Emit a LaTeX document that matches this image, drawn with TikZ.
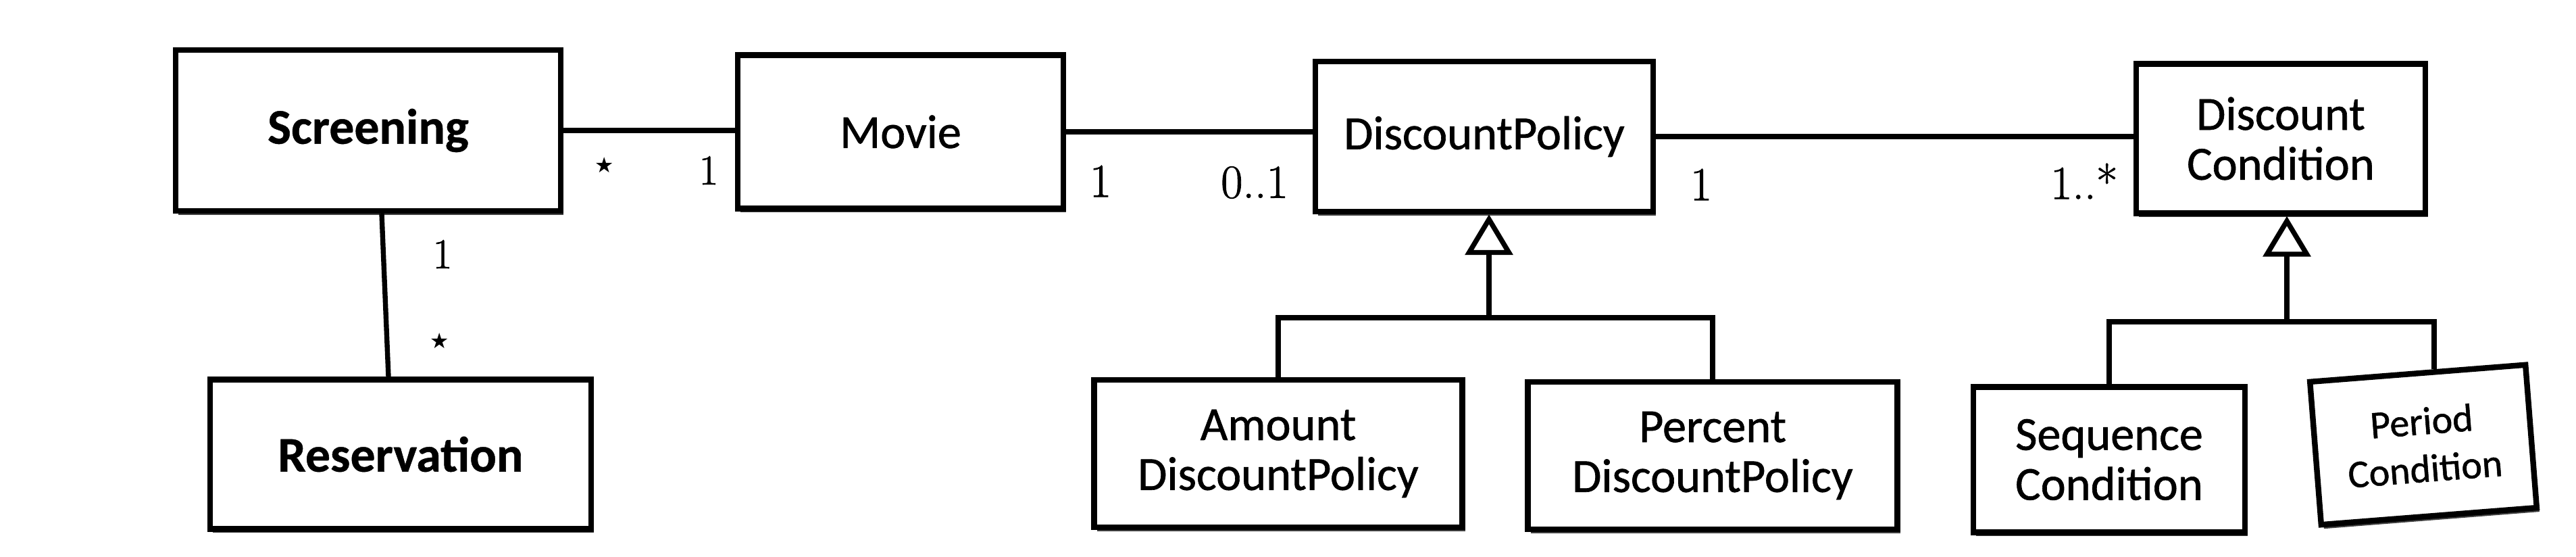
\documentclass[tikz,border=0pt]{standalone}
\usepackage{fontspec}
\newfontfamily\cf[FakeBold=0.9]{Carlito}
\newfontfamily\cfb[FakeBold=0.6]{Carlito Bold}
\newfontfamily\lmb[FakeBold=1.2]{Latin Modern Roman}
\newfontfamily\djv{DejaVu Sans}
\usetikzlibrary{arrows.meta,shadows,calc}
\begin{document}
\begin{tikzpicture}[x=1cm,y=1cm,
  cls/.style={draw, line width=2.4pt, fill=white, align=center, inner sep=0pt,
    font=\cf\fontsize{20}{21}\selectfont,
    drop shadow={shadow xshift=0.04cm, shadow yshift=-0.06cm, fill=black!75, opacity=1}},
  boldcls/.style={cls, font=\cfb\fontsize{21}{22}\selectfont},
  lnk/.style={line width=2.1pt},
  gen/.style={lnk, -{Triangle[open, length=0.6cm, width=0.7cm]}},
  mult/.style={inner sep=0pt, font=\lmb\fontsize{20}{20}\selectfont},
  smult/.style={inner sep=0pt, font=\lmb\fontsize{18}{18}\selectfont},
  starlbl/.style={inner sep=0pt, font=\djv\fontsize{9}{9}\selectfont}
]
\useasboundingbox (0,0) rectangle (38.13,-8.24);

% classes
\node[boldcls, minimum width=5.7cm, minimum height=2.38cm] (scr) at (5.45,-1.93) {Screening};
\node[cls, minimum width=4.82cm, minimum height=2.27cm] (mov) at (13.33,-1.95) {Movie};
\node[cls, minimum width=5.0cm, minimum height=2.22cm] (dp) at (21.97,-2.02) {DiscountPolicy};
\node[cls, minimum width=4.28cm, minimum height=2.21cm] (dc) at (33.76,-2.05) {Discount\\Condition};
\node[boldcls, minimum width=5.64cm, minimum height=2.21cm] (res) at (5.93,-6.72) {Reservation};
\node[cls, minimum width=5.45cm, minimum height=2.18cm] (adp) at (18.92,-6.71) {Amount\\DiscountPolicy};
\node[cls, minimum width=5.47cm, minimum height=2.18cm] (pdp) at (25.35,-6.74) {Percent\\DiscountPolicy};
\node[cls, minimum width=4.02cm, minimum height=2.15cm] (seq) at (31.22,-6.80) {Sequence\\Condition};
\node[cls, minimum width=3.2cm, minimum height=2.12cm, rotate=4.5,
      font=\cf\fontsize{16.5}{20}\selectfont] (per) at (35.87,-6.58) {Period\\Condition};

% associations
\draw[lnk] (scr.east) -- (scr.east -| mov.west);
\draw[lnk] ([xshift=0.2cm]scr.south) -- ([xshift=-0.18cm]res.north);
\draw[lnk] (mov.east) -- (mov.east -| dp.west);
\draw[lnk] (dp.east) -- (dp.east -| dc.west);

% generalisations
\coordinate (dpbar) at (22.04,-4.70);
\draw[lnk] (adp.north) |- (dpbar) -| (pdp.north);
\draw[gen] (dpbar) -- (dpbar |- dp.south);

\coordinate (dcbar) at (33.85,-4.76);
\coordinate (pertop) at ($(per.north)!0.15!(per.north east)$);
\draw[lnk] (seq.north) |- (dcbar) -| (pertop);
\draw[gen] (dcbar) -- (dcbar |- dc.south);

% multiplicities
\node[starlbl] (m1) at (8.95,-2.44) {★};
\node[smult] (m2) at (10.49,-2.52) {1};
\node[smult] (m3) at (6.55,-3.76) {1};
\node[starlbl] (m4) at (6.51,-5.04) {★};
\node[mult] (m5) at (16.29,-2.68) {1};
\node[mult] (m6) at (18.57,-2.70) {0..1};
\node[mult] (m7) at (25.18,-2.73) {1};
\node[mult] (m8) at (30.85,-2.68) {1..*};
\end{tikzpicture}
\end{document}
